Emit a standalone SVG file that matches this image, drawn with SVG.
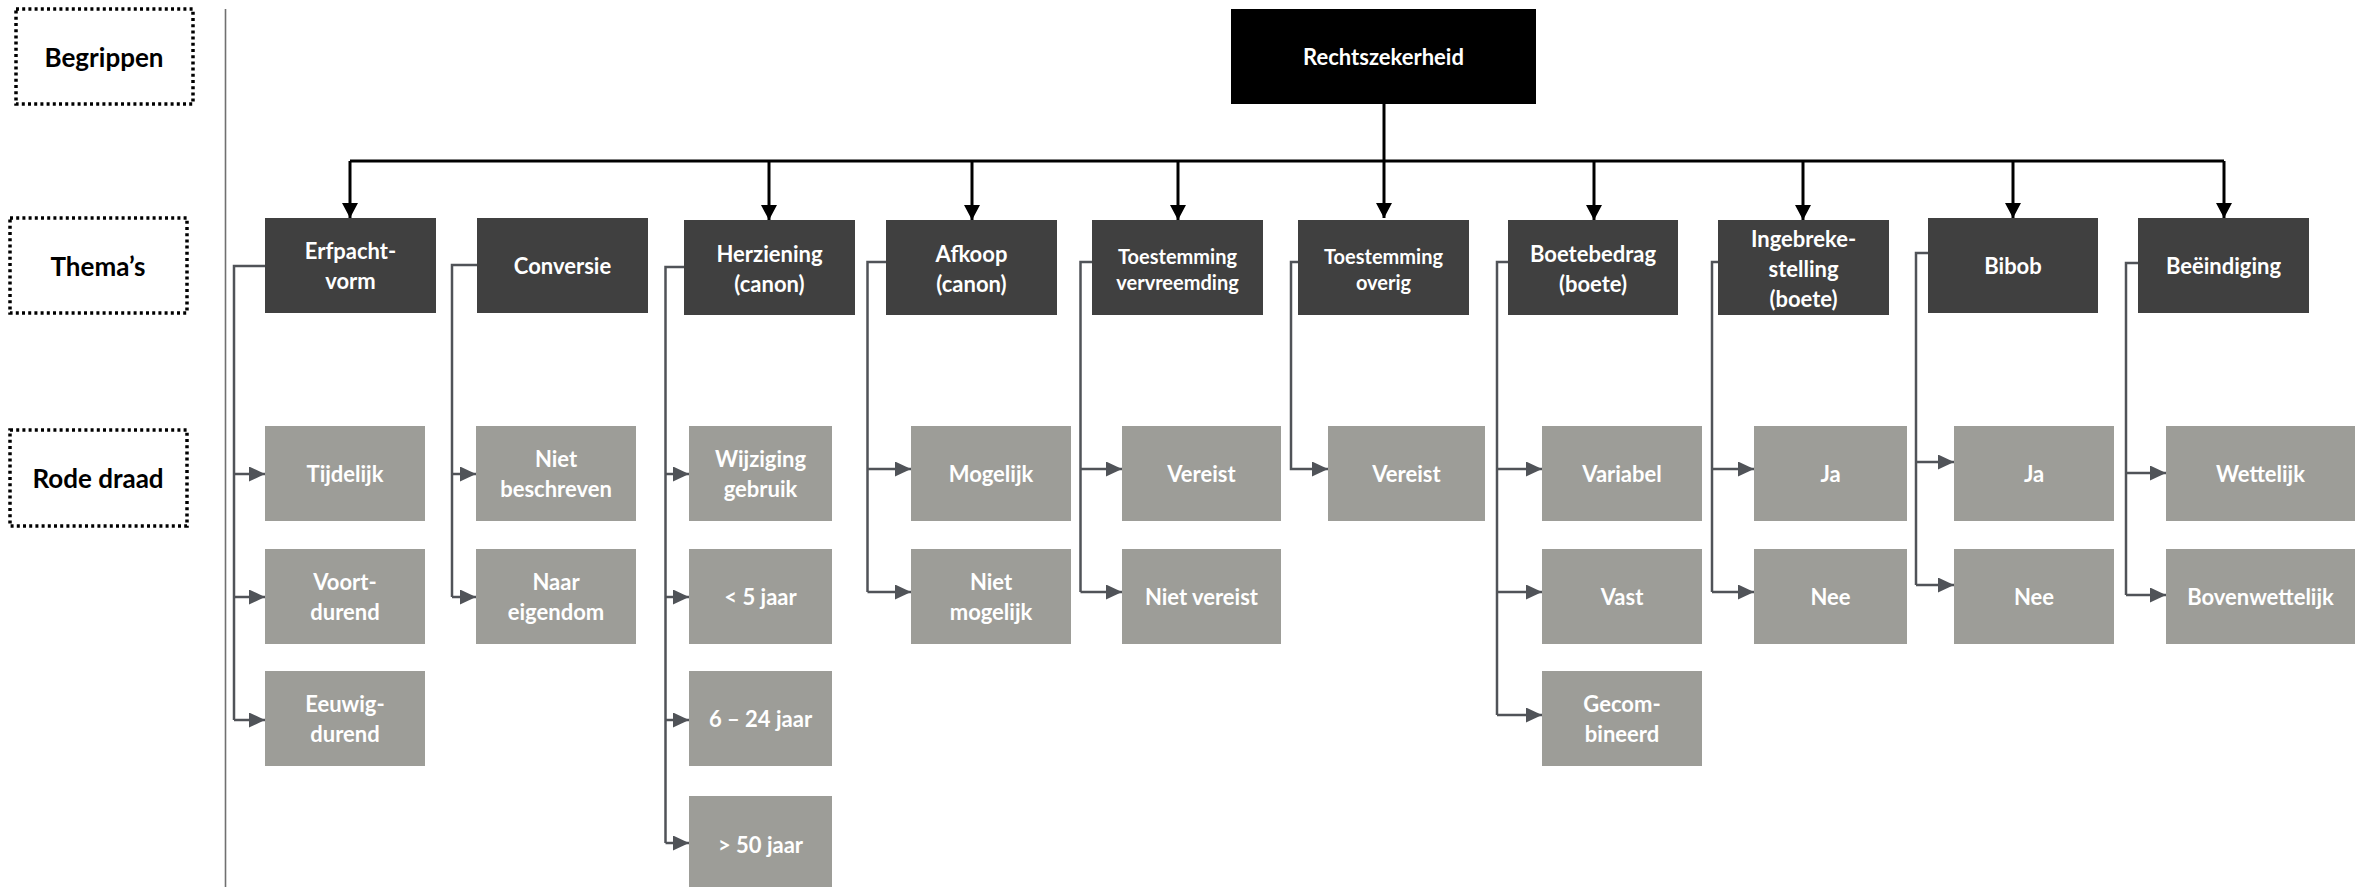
<svg xmlns="http://www.w3.org/2000/svg" width="2366" height="887" viewBox="0 0 2366 887">
<style>
.lbl{fill:none;stroke:#000;stroke-width:3.5;stroke-dasharray:3 3.2}
.lt{font-family:Lato,"Liberation Sans",sans-serif;font-weight:bold;font-size:26px;fill:#000;text-anchor:middle}
.top{fill:#000}
.th{fill:#404040}
.ch{fill:#9d9d98}
.t{font-family:Lato,"Liberation Sans",sans-serif;font-weight:bold;font-size:22px;fill:#fff;text-anchor:middle}
.ts{font-size:20px}
.bus{fill:none;stroke:#000;stroke-width:3}
.con{fill:none;stroke:#505358;stroke-width:2.5}
</style>
<defs>
<marker id="ab" markerUnits="userSpaceOnUse" markerWidth="15" markerHeight="16" refX="15" refY="8" orient="auto" viewBox="0 0 15 16"><path d="M0,0 L15,8 L0,16 z" fill="#000"/></marker>
<marker id="ag" markerUnits="userSpaceOnUse" markerWidth="16" markerHeight="15" refX="16" refY="7.5" orient="auto" viewBox="0 0 16 15"><path d="M0,0 L16,7.5 L0,15 z" fill="#505358"/></marker>
</defs>

<g id="legend">
<rect class="lbl" x="16" y="9" width="177" height="95"/>
<text class="lt" x="104" y="67">Begrippen</text>
<rect class="lbl" x="10" y="218" width="177" height="95"/>
<text class="lt" x="98" y="276">Thema’s</text>
<rect class="lbl" x="10" y="430" width="177" height="96"/>
<text class="lt" x="98" y="488">Rode draad</text>
<line x1="225.5" y1="9" x2="225.5" y2="887" stroke="#707070" stroke-width="1.6"/>
</g>

<g id="connectors">
<path class="bus" d="M350,161 H2224"/>
<path class="bus" d="M1384,104 V218" marker-end="url(#ab)"/>
<path class="bus" d="M350,161 V218" marker-end="url(#ab)"/>
<path class="bus" d="M769,161 V220" marker-end="url(#ab)"/>
<path class="bus" d="M972,161 V220" marker-end="url(#ab)"/>
<path class="bus" d="M1178,161 V220" marker-end="url(#ab)"/>
<path class="bus" d="M1594,161 V220" marker-end="url(#ab)"/>
<path class="bus" d="M1803,161 V220" marker-end="url(#ab)"/>
<path class="bus" d="M2013,161 V218" marker-end="url(#ab)"/>
<path class="bus" d="M2224,161 V218" marker-end="url(#ab)"/>

<path class="con" d="M265,266 H234 V720"/>
<path class="con" d="M234,474 H265" marker-end="url(#ag)"/>
<path class="con" d="M234,597 H265" marker-end="url(#ag)"/>
<path class="con" d="M234,720 H265" marker-end="url(#ag)"/>

<path class="con" d="M477,265 H452 V597"/>
<path class="con" d="M452,474 H476" marker-end="url(#ag)"/>
<path class="con" d="M452,597 H476" marker-end="url(#ag)"/>

<path class="con" d="M684,267 H665.5 V843"/>
<path class="con" d="M665.5,474 H689" marker-end="url(#ag)"/>
<path class="con" d="M665.5,597 H689" marker-end="url(#ag)"/>
<path class="con" d="M665.5,720 H689" marker-end="url(#ag)"/>
<path class="con" d="M665.5,843 H689" marker-end="url(#ag)"/>

<path class="con" d="M886,262 H867.5 V592"/>
<path class="con" d="M867.5,469 H911" marker-end="url(#ag)"/>
<path class="con" d="M867.5,592 H911" marker-end="url(#ag)"/>

<path class="con" d="M1092,262 H1080.5 V592"/>
<path class="con" d="M1080.5,469 H1122" marker-end="url(#ag)"/>
<path class="con" d="M1080.5,592 H1122" marker-end="url(#ag)"/>

<path class="con" d="M1298,262 H1291 V469 H1328" marker-end="url(#ag)"/>

<path class="con" d="M1508,262 H1497 V715"/>
<path class="con" d="M1497,469 H1542" marker-end="url(#ag)"/>
<path class="con" d="M1497,592 H1542" marker-end="url(#ag)"/>
<path class="con" d="M1497,715 H1542" marker-end="url(#ag)"/>

<path class="con" d="M1718,262 H1712 V592"/>
<path class="con" d="M1712,469 H1754" marker-end="url(#ag)"/>
<path class="con" d="M1712,592 H1754" marker-end="url(#ag)"/>

<path class="con" d="M1928,253 H1916 V585"/>
<path class="con" d="M1916,462 H1954" marker-end="url(#ag)"/>
<path class="con" d="M1916,585 H1954" marker-end="url(#ag)"/>

<path class="con" d="M2138,263 H2126 V595"/>
<path class="con" d="M2126,473 H2166" marker-end="url(#ag)"/>
<path class="con" d="M2126,595 H2166" marker-end="url(#ag)"/>
</g>

<g id="n-rechtszekerheid"><rect class="top" x="1231" y="9" width="305" height="95"/><text class="t" x="1383.5" y="65">Rechtszekerheid</text></g>

<g id="n-erfpachtvorm"><rect class="th" x="265" y="218" width="171" height="95"/><text class="t" x="350.5" y="259">Erfpacht-</text><text class="t" x="350.5" y="289">vorm</text></g>
<g id="n-conversie"><rect class="th" x="477" y="218" width="171" height="95"/><text class="t" x="562.5" y="274">Conversie</text></g>
<g id="n-herziening"><rect class="th" x="684" y="220" width="171" height="95"/><text class="t" x="769.5" y="262">Herziening</text><text class="t" x="769.5" y="292">(canon)</text></g>
<g id="n-afkoop"><rect class="th" x="886" y="220" width="171" height="95"/><text class="t" x="971.5" y="262">Afkoop</text><text class="t" x="971.5" y="292">(canon)</text></g>
<g id="n-toest-vervreemding"><rect class="th" x="1092" y="220" width="171" height="95"/><text class="t ts" x="1177.5" y="264">Toestemming</text><text class="t ts" x="1177.5" y="290">vervreemding</text></g>
<g id="n-toest-overig"><rect class="th" x="1298" y="220" width="171" height="95"/><text class="t ts" x="1383.5" y="264">Toestemming</text><text class="t ts" x="1383.5" y="290">overig</text></g>
<g id="n-boetebedrag"><rect class="th" x="1508" y="220" width="170" height="95"/><text class="t" x="1593" y="262">Boetebedrag</text><text class="t" x="1593" y="292">(boete)</text></g>
<g id="n-ingebrekestelling"><rect class="th" x="1718" y="220" width="171" height="95"/><text class="t" x="1803.5" y="247">Ingebreke-</text><text class="t" x="1803.5" y="277">stelling</text><text class="t" x="1803.5" y="307">(boete)</text></g>
<g id="n-bibob"><rect class="th" x="1928" y="218" width="170" height="95"/><text class="t" x="2013" y="274">Bibob</text></g>
<g id="n-beeindiging"><rect class="th" x="2138" y="218" width="171" height="95"/><text class="t" x="2223.5" y="274">Beëindiging</text></g>

<g id="n-tijdelijk"><rect class="ch" x="265" y="426" width="160" height="95"/><text class="t" x="345" y="482">Tijdelijk</text></g>
<g id="n-voortdurend"><rect class="ch" x="265" y="549" width="160" height="95"/><text class="t" x="345" y="590">Voort-</text><text class="t" x="345" y="620">durend</text></g>
<g id="n-eeuwigdurend"><rect class="ch" x="265" y="671" width="160" height="95"/><text class="t" x="345" y="712">Eeuwig-</text><text class="t" x="345" y="742">durend</text></g>

<g id="n-niet-beschreven"><rect class="ch" x="476" y="426" width="160" height="95"/><text class="t" x="556" y="467">Niet</text><text class="t" x="556" y="497">beschreven</text></g>
<g id="n-naar-eigendom"><rect class="ch" x="476" y="549" width="160" height="95"/><text class="t" x="556" y="590">Naar</text><text class="t" x="556" y="620">eigendom</text></g>

<g id="n-wijziging-gebruik"><rect class="ch" x="689" y="426" width="143" height="95"/><text class="t" x="760.5" y="467">Wijziging</text><text class="t" x="760.5" y="497">gebruik</text></g>
<g id="n-lt5"><rect class="ch" x="689" y="549" width="143" height="95"/><text class="t" x="760.5" y="605">&lt; 5 jaar</text></g>
<g id="n-6-24"><rect class="ch" x="689" y="671" width="143" height="95"/><text class="t" x="760.5" y="727">6 – 24 jaar</text></g>
<g id="n-gt50"><rect class="ch" x="689" y="796" width="143" height="95"/><text class="t" x="760.5" y="853">&gt; 50 jaar</text></g>

<g id="n-mogelijk"><rect class="ch" x="911" y="426" width="160" height="95"/><text class="t" x="991" y="482">Mogelijk</text></g>
<g id="n-niet-mogelijk"><rect class="ch" x="911" y="549" width="160" height="95"/><text class="t" x="991" y="590">Niet</text><text class="t" x="991" y="620">mogelijk</text></g>

<g id="n-vereist-1"><rect class="ch" x="1122" y="426" width="159" height="95"/><text class="t" x="1201.5" y="482">Vereist</text></g>
<g id="n-niet-vereist"><rect class="ch" x="1122" y="549" width="159" height="95"/><text class="t" x="1201.5" y="605">Niet vereist</text></g>

<g id="n-vereist-2"><rect class="ch" x="1328" y="426" width="157" height="95"/><text class="t" x="1406.5" y="482">Vereist</text></g>

<g id="n-variabel"><rect class="ch" x="1542" y="426" width="160" height="95"/><text class="t" x="1622" y="482">Variabel</text></g>
<g id="n-vast"><rect class="ch" x="1542" y="549" width="160" height="95"/><text class="t" x="1622" y="605">Vast</text></g>
<g id="n-gecombineerd"><rect class="ch" x="1542" y="671" width="160" height="95"/><text class="t" x="1622" y="712">Gecom-</text><text class="t" x="1622" y="742">bineerd</text></g>

<g id="n-ja-1"><rect class="ch" x="1754" y="426" width="153" height="95"/><text class="t" x="1830.5" y="482">Ja</text></g>
<g id="n-nee-1"><rect class="ch" x="1754" y="549" width="153" height="95"/><text class="t" x="1830.5" y="605">Nee</text></g>

<g id="n-ja-2"><rect class="ch" x="1954" y="426" width="160" height="95"/><text class="t" x="2034" y="482">Ja</text></g>
<g id="n-nee-2"><rect class="ch" x="1954" y="549" width="160" height="95"/><text class="t" x="2034" y="605">Nee</text></g>

<g id="n-wettelijk"><rect class="ch" x="2166" y="426" width="189" height="95"/><text class="t" x="2260.5" y="482">Wettelijk</text></g>
<g id="n-bovenwettelijk"><rect class="ch" x="2166" y="549" width="189" height="95"/><text class="t" x="2260.5" y="605">Bovenwettelijk</text></g>
</svg>
